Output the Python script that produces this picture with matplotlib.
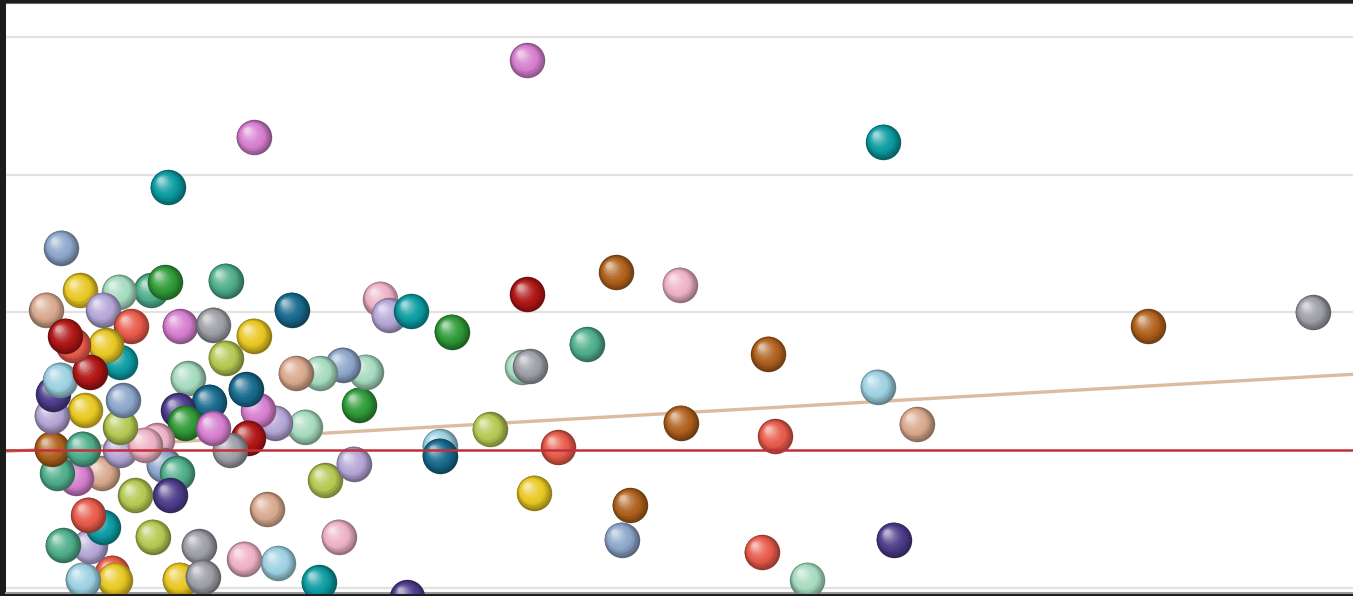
import numpy as np
import matplotlib
matplotlib.use("Agg")
from matplotlib import pyplot as plt
from matplotlib.colors import to_rgb
from matplotlib.transforms import offset_copy

# palette of the sphere colours
palette = {
    "orchid": "#d67fcf", "teal": "#0b9ba1", "steel": "#8ca6cb", "gold": "#e9c823",
    "mint": "#a6dbbf", "green": "#2f9a37", "seagreen": "#4fae8b", "tan": "#d9a98e",
    "lavender": "#b5a6d6", "tomato": "#e85a4a", "grey": "#9d9ea6", "darkteal": "#186a8d",
    "pink": "#eeb2c5", "darkred": "#b01616", "brown": "#b0611d", "lightblue": "#9dd1e1",
    "yellowgreen": "#b5c852", "slate": "#4d3d8c",
}

# scatter values (x, y) and colour names
xs = [38.7, 18.4, 65.1, 12.0, 4.1, 5.5, 10.8, 8.4, 11.8, 16.3, 3.0, 7.2, 9.3, 12.9, 15.4,
      18.4, 21.2, 27.8, 28.4, 30.1, 33.1, 38.7, 45.3, 50.0, 43.1, 38.3, 38.9, 56.6, 84.8,
      97.0, 64.7, 67.6, 50.1, 57.1, 41.0, 35.9, 32.2, 32.2, 39.2, 46.3, 45.7, 56.1, 65.9,
      59.5, 29.8, 23.2, 24.7, 20.2, 17.7, 19.4, 23.7, 25.8, 26.2, 26.7, 25.0, 23.3, 21.5,
      22.2, 20.0, 18.7, 17.8, 18.0, 16.6, 16.3, 13.5, 15.1, 12.8, 13.3, 15.4, 11.2, 11.7,
      12.7, 12.2, 9.6, 10.9, 14.3, 12.9, 14.6, 7.9, 8.1, 5.7, 6.2, 4.2, 7.2, 6.1, 7.1,
      5.2, 3.8, 3.4, 5.7, 8.5, 10.3, 8.5, 5.9, 3.4, 3.5, 8.7, 8.5, 7.4, 4.0, 6.2, 5.0, 4.4]
ys = [2.83, 2.27, 2.24, 1.91, 1.47, 1.16, 1.16, 1.15, 1.22, 1.23, 1.02, 1.02, 0.90, 0.90, 0.91,
      0.83, 1.02, 1.10, 0.98, 1.01, 0.86, 1.13, 1.29, 1.20, 0.77, 0.60, 0.61, 0.70, 0.90,
      1.00, 0.46, 0.19, 0.20, 0.10, 0.02, 0.15, 0.03, -0.04, -0.31, -0.40, -0.65, -0.74, -0.65,
      -0.94, -1.07, -0.96, -0.63, -0.82, -0.79, -0.43, -0.22, -0.10, 0.33, 0.57, 0.62, 0.56, 0.56,
      0.17, 0.20, 0.29, 0.44, 0.09, 0.00, 0.67, 0.52, 0.35, 0.29, 0.20, 0.16, 0.07, -0.11,
      -0.17, -0.33, -0.33, -0.63, -0.70, -0.94, -0.92, -0.89, -0.94, -0.94, -0.70, -0.69, -0.56, -0.47, -0.17,
      -0.20, -0.17, 0.01, 0.01, 0.00, 0.04, 0.17, 0.29, 0.25, 0.41, 0.36, 0.64, 0.76, 0.51, 0.57, 0.76, 0.83]
cols = ["orchid", "orchid", "teal", "teal", "steel", "gold", "seagreen", "mint", "green", "seagreen",
        "tan", "lavender", "tomato", "orchid", "grey", "gold", "darkteal", "pink", "lavender", "teal",
        "green", "darkred", "brown", "pink", "seagreen", "mint", "grey", "brown", "brown", "grey",
        "lightblue", "tan", "brown", "tomato", "tomato", "yellowgreen", "lightblue", "darkteal", "gold",
        "brown", "steel", "tomato", "slate", "mint", "slate", "teal", "pink", "lightblue", "pink", "tan",
        "yellowgreen", "lavender", "green", "mint", "steel", "mint", "tan", "mint", "lavender", "orchid",
        "darkteal", "darkred", "grey", "yellowgreen", "mint", "darkteal", "slate", "green", "orchid",
        "pink", "steel", "seagreen", "slate", "yellowgreen", "yellowgreen", "grey", "gold", "grey",
        "tomato", "gold", "lightblue", "lavender", "seagreen", "teal", "tomato", "tan", "orchid",
        "seagreen", "brown", "seagreen", "lavender", "pink", "yellowgreen", "gold", "lavender", "slate",
        "steel", "teal", "gold", "lightblue", "darkred", "tomato", "darkred"]

trend_x = [0, 100]
trend_y = [-0.01, 0.55]
grid_y = [-1, 1, 2, 3]
ref_y = 0


def mix(c, other, t):
    c = np.array(to_rgb(c))
    return tuple(c * (1 - t) + np.array(other) * t)


fig = plt.figure(figsize=(13.53, 5.96), dpi=100, facecolor="#1c1c1c")
ax = fig.add_axes([6 / 1353, 3 / 596, 1347 / 1353, 590 / 596])
ax.set_facecolor("white")
ax.set_xlim(0, 100)
ax.set_ylim(-1.038, 3.246)

for g in grid_y:
    ax.axhline(g, color="#e2e2e2", lw=1.6, zorder=1)

ax.plot(trend_x, trend_y, color="#dcbca0", lw=2.4, zorder=2)

# spheres: stacked circles, dark rim -> base colour -> highlight toward upper-left
size = 25.5
nlay = 20
for i, (x, y, c) in enumerate(zip(xs, ys, cols)):
    base = palette[c]
    z = 3 + i * 0.01
    for k in range(nlay):
        t = k / (nlay - 1)
        d = size * (1 - 0.85 * t)
        off = t * size * 0.2
        if t < 0.35:
            colr = mix(base, (0, 0, 0), 0.38 * (1 - t / 0.35))
        else:
            colr = mix(base, (1, 1, 1), 0.6 * ((t - 0.35) / 0.65) ** 1.6)
        tr = offset_copy(ax.transData, fig=fig, x=-off, y=off, units="points")
        ax.scatter([x], [y], s=d ** 2, color=colr, linewidths=0,
                   transform=tr, zorder=z + 0.0004 * k)

ax.axhline(ref_y, color="#c0303a", lw=1.8, zorder=9)

ax.set_xticks([])
ax.set_yticks([])
for side in ["left", "right"]:
    ax.spines[side].set_visible(False)
ax.spines["top"].set_color("#6a6a6a")
ax.spines["bottom"].set_color("#9a9a9a")
ax.spines["bottom"].set_linewidth(1.5)

fig.savefig("out.png", dpi=100, facecolor=fig.get_facecolor())
